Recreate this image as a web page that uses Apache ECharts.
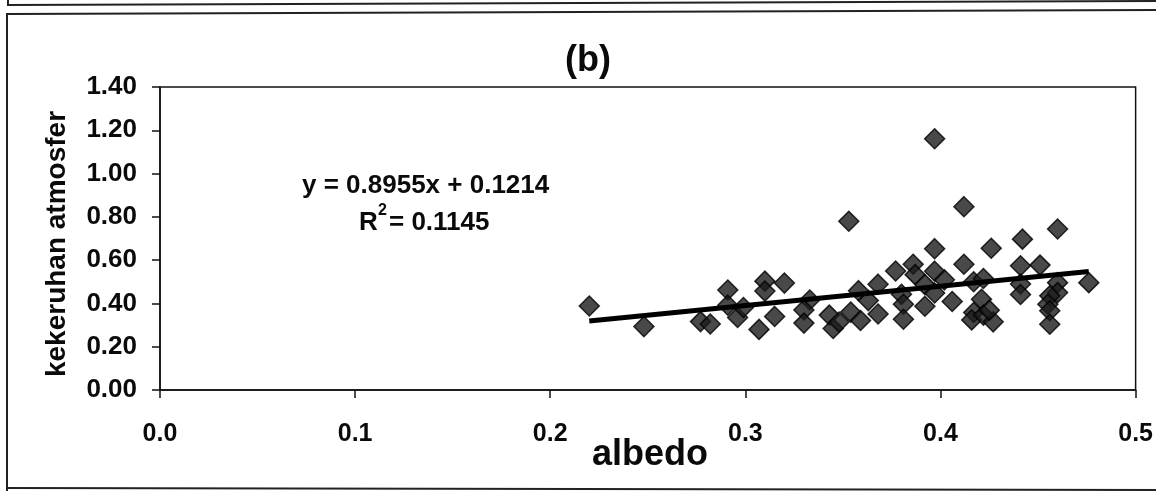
<!DOCTYPE html>
<html><head><meta charset="utf-8">
<script src="https://cdn.jsdelivr.net/npm/echarts@6/dist/echarts.min.js"></script>
<style>html,body{margin:0;padding:0;background:#fff}#c{width:1156px;height:491px}</style>
</head><body><div id="c"></div>
<script>
// albedo (x) values
const albedo = [
  0.220, 0.248, 0.277, 0.282, 0.291, 0.291, 0.296, 0.299, 0.310, 0.310, 0.320, 0.307, 0.315,
  0.333, 0.330, 0.330, 0.343, 0.345, 0.348, 0.354, 0.358, 0.359, 0.363, 0.368, 0.368,
  0.377, 0.380, 0.381, 0.381, 0.386, 0.387, 0.392, 0.392, 0.397, 0.397, 0.402, 0.406,
  0.397, 0.353, 0.412, 0.397, 0.426, 0.442, 0.460, 0.412, 0.441, 0.451, 0.476, 0.460,
  0.460, 0.456, 0.455, 0.456, 0.456, 0.441, 0.441, 0.417, 0.422, 0.421, 0.417, 0.416,
  0.422, 0.427, 0.425
];
// kekeruhan atmosfer (y) values
const kekeruhan = [
  0.388, 0.293, 0.316, 0.305, 0.462, 0.392, 0.335, 0.381, 0.503, 0.457, 0.494, 0.280, 0.340,
  0.416, 0.370, 0.309, 0.346, 0.284, 0.314, 0.360, 0.459, 0.321, 0.413, 0.489, 0.351,
  0.550, 0.442, 0.396, 0.327, 0.581, 0.533, 0.487, 0.387, 0.549, 0.448, 0.509, 0.409,
  1.161, 0.780, 0.847, 0.653, 0.655, 0.697, 0.744, 0.581, 0.574, 0.577, 0.496, 0.496,
  0.450, 0.435, 0.396, 0.366, 0.304, 0.490, 0.441, 0.500, 0.515, 0.419, 0.358, 0.324,
  0.346, 0.315, 0.369
];
// trendline equation shown on the chart
const slope = 0.8955;
const intercept = 0.1214;
const rSquared = 0.1145;
// axis ticks
const xTickLabels = ['0.0', '0.1', '0.2', '0.3', '0.4', '0.5'];
const yTickLabels = ['0.00', '0.20', '0.40', '0.60', '0.80', '1.00', '1.20', '1.40'];
const titleText = '(b)';
const xTitle = 'albedo';
const yTitle = 'kekeruhan atmosfer';

const points = albedo.map((x, i) => [x, kekeruhan[i]]);
const xMin = Math.min(...albedo), xMax = Math.max(...albedo);
const trend = [[xMin, slope * xMin + intercept], [xMax, slope * xMax + intercept]];

const FONT = '"Liberation Sans", Arial, sans-serif';
const chart = echarts.init(document.getElementById('c'), null, {renderer: 'canvas'});
const line = (pts, w) => ({type: 'polyline', shape: {points: pts}, style: {stroke: '#222', lineWidth: w || 2, fill: null}, silent: true});

chart.setOption({
  animation: false,
  backgroundColor: '#fff',
  grid: {left: 160, right: 20, top: 87, bottom: 101, show: true, borderColor: '#111', borderWidth: 1.5, backgroundColor: 'transparent'},
  xAxis: {
    type: 'value', min: 0, max: 0.5, interval: 0.1,
    axisLine: {show: true, onZero: false, lineStyle: {color: '#111', width: 1.5}},
    axisTick: {show: true, inside: false, length: 8, lineStyle: {color: '#111', width: 1.5}},
    splitLine: {show: false},
    axisLabel: {margin: 32, color: '#0a0a0a', fontFamily: FONT, fontWeight: 'bold', fontSize: 25,
      formatter: (v) => xTickLabels[Math.round(v * 10)] || ''}
  },
  yAxis: {
    type: 'value', min: 0, max: 1.4, interval: 0.2,
    axisLine: {show: true, onZero: false, lineStyle: {color: '#111', width: 1.5}},
    axisTick: {show: true, inside: false, length: 8, lineStyle: {color: '#111', width: 1.5}},
    splitLine: {show: false},
    axisLabel: {margin: 23, color: '#0a0a0a', fontFamily: FONT, fontWeight: 'bold', fontSize: 26,
      formatter: (v) => yTickLabels[Math.round(v * 5)] || ''}
  },
  series: [
    {
      type: 'scatter', data: points, symbol: 'diamond', symbolSize: [20, 20],
      itemStyle: {color: '#1c1c1c', borderColor: '#000', borderWidth: 1.5}, z: 2
    },
    {
      type: 'line', data: trend, symbol: 'none', z: 3,
      lineStyle: {color: '#000', width: 5}
    }
  ],
  graphic: [
    line([[8, 0], [8, 5], [1156, 1]], 2),
    line([[7, 491], [7, 14], [1156, 10]], 2),
    line([[7, 488], [1156, 490]], 2),
    {type: 'text', x: 588, y: 61, style: {text: titleText, align: 'center', verticalAlign: 'middle', font: 'bold 36px ' + FONT, fill: '#0a0a0a'}},
    {type: 'text', x: 650, y: 455, style: {text: xTitle, align: 'center', verticalAlign: 'middle', font: 'bold 36px ' + FONT, fill: '#0a0a0a'}},
    {type: 'text', x: 57, y: 244, rotation: Math.PI / 2, style: {text: yTitle, align: 'center', verticalAlign: 'middle', font: 'bold 28px ' + FONT, fill: '#0a0a0a'}},
    {type: 'text', x: 302, y: 186, style: {text: 'y = ' + slope.toFixed(4) + 'x + ' + intercept.toFixed(4), align: 'left', verticalAlign: 'middle', font: 'bold 26px ' + FONT, fill: '#0a0a0a'}},
    {type: 'text', x: 359, y: 223, style: {text: 'R', align: 'left', verticalAlign: 'middle', font: 'bold 26px ' + FONT, fill: '#0a0a0a'}},
    {type: 'text', x: 378, y: 211, style: {text: '2', align: 'left', verticalAlign: 'middle', font: 'bold 16px ' + FONT, fill: '#0a0a0a'}},
    {type: 'text', x: 389, y: 223, style: {text: '= ' + rSquared.toFixed(4), align: 'left', verticalAlign: 'middle', font: 'bold 26px ' + FONT, fill: '#0a0a0a'}}
  ]
});
</script></body></html>
